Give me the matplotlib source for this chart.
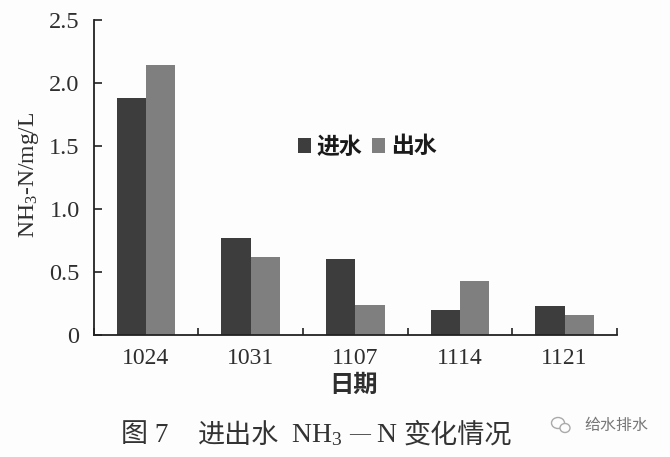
import matplotlib
matplotlib.use("Agg")
import matplotlib.pyplot as plt
from matplotlib.patches import Ellipse
import numpy as np

fechas = ["1024", "1031", "1107", "1114", "1121"]
entrada = [1.88, 0.77, 0.60, 0.20, 0.23]
salida = [2.14, 0.62, 0.24, 0.43, 0.16]
y_ticks = [0, 0.5, 1.0, 1.5, 2.0, 2.5]
y_labels = ["0", "0.5", "1.0", "1.5", "2.0", "2.5"]

serif = ["Liberation Serif", "Noto Sans CJK SC"]
cjk = ["Noto Sans CJK SC", "DejaVu Sans"]
W, H = 670, 457
texto = "#2e2e2e"

plt.rcParams["mathtext.fontset"] = "custom"
plt.rcParams["mathtext.rm"] = "Liberation Serif"

fig = plt.figure(figsize=(W / 100, H / 100), dpi=100, facecolor="#fdfdfd")
ax = fig.add_axes([93.5 / W, 1 - 335 / H, (617 - 93.5) / W, (335 - 20) / H])
ax.set_facecolor("#fdfdfd")

x = np.arange(len(fechas))
ancho = 0.28
ax.bar(x - ancho / 2, entrada, ancho, color="#3d3d3d", label="进水")
ax.bar(x + ancho / 2, salida, ancho, color="#7f7f7f", label="出水")

ax.set_xlim(-0.5, 4.5)
ax.set_ylim(0, 2.5)
ax.spines["top"].set_visible(False)
ax.spines["right"].set_visible(False)
for lado in ["left", "bottom"]:
    ax.spines[lado].set_linewidth(1.3)
    ax.spines[lado].set_color("#222222")

ax.set_yticks(y_ticks)
ax.set_yticklabels(y_labels, family=serif, fontsize=17.5, color=texto)
ax.tick_params(axis="y", direction="in", length=6, width=1.2, pad=10, color="#222222")

# marcas entre grupos, etiquetas centradas
ax.set_xticks(np.arange(-0.5, 5, 1))
ax.set_xticklabels([])
ax.tick_params(axis="x", direction="in", length=5, width=1.2, color="#222222")
for i, f in enumerate(fechas):
    ax.annotate(f, (i, 0), xycoords=("data", "axes fraction"), xytext=(0, -9),
                textcoords="offset points", ha="center", va="top",
                family=serif, fontsize=17, color=texto)

fig.text(29 / W, 1 - 175 / H, r"$\mathrm{NH_3}$-N/mg/L", rotation=90, ha="center", va="center",
         family=serif, fontsize=17, color=texto)
fig.text(353 / W, 1 - 385 / H, "日期", ha="center", va="center", family=cjk,
         fontsize=17.5, fontweight="bold", color=texto)

ax.legend(loc="upper left", bbox_to_anchor=(193 / 523.5, 1 - 104 / 315), ncol=2, frameon=False,
          prop={"family": cjk, "size": 16.5, "weight": "bold"}, handlelength=0.55, handleheight=0.65,
          handletextpad=0.25, columnspacing=0.45, borderpad=0, labelcolor="#1a1a1a")

tit_y = 1 - 435 / H
fig.text(121 / W, tit_y, "图 7", ha="left", va="center", family=serif, fontsize=19.5, color="#333333")
fig.text(198 / W, tit_y, "进出水", ha="left", va="center", family=cjk, fontsize=19.5,
         fontweight="light", color="#333333")
fig.text(291 / W, tit_y, r"$\mathrm{NH_3}$", ha="left", va="center", family=serif, fontsize=20, color="#333333")
fig.text(349 / W, tit_y, "—", ha="left", va="center", family=serif, fontsize=15, color="#333333")
fig.text(376 / W, tit_y, "N", ha="left", va="center", family=serif, fontsize=20, color="#333333")
fig.text(404 / W, tit_y, "变化情况", ha="left", va="center", family=cjk, fontsize=19.5,
         fontweight="light", color="#333333")

# marca de agua
fig.add_artist(Ellipse((558 / W, 1 - 423 / H), 13 / W, 11 / H, transform=fig.transFigure,
                       fill=False, edgecolor="#aaaaaa", lw=1))
fig.add_artist(Ellipse((565 / W, 1 - 428 / H), 10 / W, 9 / H, transform=fig.transFigure,
                       facecolor="#fdfdfd", edgecolor="#aaaaaa", lw=1))
fig.text(584 / W, 1 - 425 / H, "给水排水", ha="left", va="center", family=cjk, fontsize=11.5, color="#777777")

fig.savefig("out.png", dpi=100, facecolor=fig.get_facecolor())
